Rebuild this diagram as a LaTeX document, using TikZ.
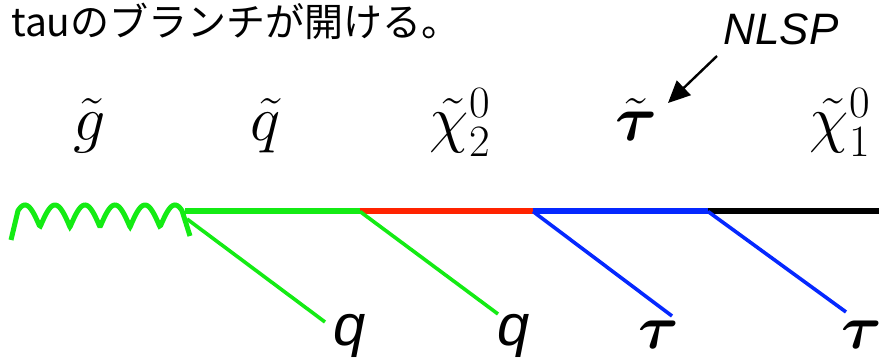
\RequirePackage{fix-cm}
\documentclass[tikz,border=0pt]{standalone}
\usepackage{amsmath,amssymb}
\usepackage{fontspec}
\usepackage{tikz}
\usetikzlibrary{arrows.meta}
\setsansfont{Liberation Sans}
\newfontfamily\jpfont{Noto Sans CJK JP}
\definecolor{QuarkGreen}{RGB}{20,235,20}
\definecolor{ChiRed}{RGB}{255,35,0}
\definecolor{StauBlue}{RGB}{5,40,255}

\begin{document}
\begin{tikzpicture}[x=1pt,y=-1pt,
    prop/.style={line width=6pt},
    leg/.style={line width=3.6pt},
    sparticle/.style={anchor=base, inner sep=0, font=\fontsize{64}{66}\selectfont},
    quarkout/.style={anchor=base, inner sep=0, font=\sffamily\itshape\fontsize{58}{60}\selectfont},
    tauout/.style={anchor=base, inner sep=0, font=\fontsize{62}{64}\selectfont}]
        \useasboundingbox (0,0) rectangle (879,363);
        \node[anchor=base west, inner sep=0, font=\jpfont\fontsize{39}{42}\selectfont] (title) at (11,37) {tauのブランチが開ける。};
        % sparticle names
        \node[sparticle] (gluino) at (90,141) {$\tilde{g}$};
        \node[sparticle] (squark) at (266,141) {$\tilde{q}$};
        \node[sparticle] (chitwo) at (460,141) {$\tilde{\chi}_2^0$};
        \node[sparticle] (stau) at (636,141) {$\tilde{\boldsymbol{\tau}}$};
        \node[sparticle] (chione) at (840,141) {$\tilde{\chi}_1^0$};
        \node[anchor=base, inner sep=0, font=\sffamily\itshape\fontsize{44}{46}\selectfont] (nlsp) at (781,45) {NLSP};
        \coordinate (arrtail) at (717,56);
        \coordinate (arrtip) at (668,103);
        \draw[-{Triangle[length=22pt,width=20pt]}, line width=2.4pt] (arrtail) -- (arrtip);
        % decay chain
        \coordinate (v1) at (185,211.5);
        \coordinate (v2) at (360,211.5);
        \coordinate (v3) at (533,211.5);
        \coordinate (v4) at (708,211.5);
        \coordinate (vend) at (879,211.5);
        \draw[QuarkGreen, line width=5pt] (11,240) -- plot[domain=18:182, samples=140, smooth] (\x, {227-22*abs(cos(6*(\x-25)))}) -- (190,236);
        \draw[prop, QuarkGreen] (v1) -- (v2);
        \draw[prop, ChiRed] (v2) -- (v3);
        \draw[prop, StauBlue] (v3) -- (v4);
        \draw[prop, black] (v4) -- (vend);
        % outgoing legs
        \coordinate (l1) at (325,322);
        \coordinate (l2) at (498,314);
        \coordinate (l3) at (672,316);
        \coordinate (l4) at (846,312);
        \draw[leg, QuarkGreen] (187,219) -- (l1);
        \draw[leg, QuarkGreen] (v2) -- (l2);
        \draw[leg, StauBlue] (v3) -- (l3);
        \draw[leg, StauBlue] (v4) -- (l4);
        \node[quarkout] (q1) at (350,346) {q};
        \node[quarkout] (q2) at (514,346) {q};
        \node[tauout] (tau1) at (659,349) {$\boldsymbol{\tau}$};
        \node[tauout] (tau2) at (862,349) {$\boldsymbol{\tau}$};
      \end{tikzpicture}
\end{document}
